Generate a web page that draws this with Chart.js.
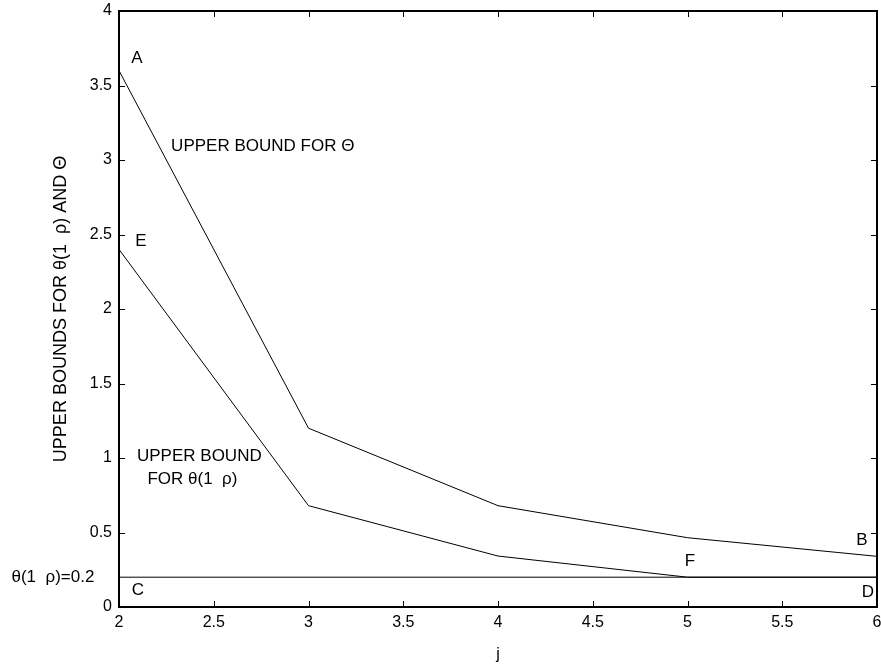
<!DOCTYPE html>
<html>
<head>
<meta charset="utf-8">
<script src="https://cdn.jsdelivr.net/npm/chart.js@4"></script>
<style>
html,body{margin:0;padding:0;background:#fff;}
#wrap{width:881px;height:668px;}
</style>
</head>
<body>
<div id="wrap"><canvas id="c" width="881" height="668"></canvas></div>
<script>
// ---- data ----
const jValues = [2, 3, 4, 5, 6];
const upperTheta = [3.6, 1.2, 0.68, 0.465, 0.34];
const upperThetaRho = [2.4, 0.68, 0.342, 0.2, 0.2];
const thetaRhoLevel = [0.2, 0.2];
const levelX = [2, 6];
const xTickValues = [2, 2.5, 3, 3.5, 4, 4.5, 5, 5.5, 6];
const yTickValues = [0, 0.5, 1, 1.5, 2, 2.5, 3, 3.5, 4];

// annotation texts anchored in data coordinates
const notes = [
  {text: 'A', x: 2.095, y: 3.68, align: 'center'},
  {text: 'UPPER BOUND FOR Θ', x: 2.275, y: 3.09, align: 'left'},
  {text: 'E', x: 2.116, y: 2.455, align: 'center'},
  {text: 'UPPER BOUND', x: 2.095, y: 1.01, align: 'left'},
  {text: 'FOR θ(1  ρ)', x: 2.15, y: 0.86, align: 'left'},
  {text: 'F', x: 5.013, y: 0.305, align: 'center'},
  {text: 'B', x: 5.92, y: 0.445, align: 'center'},
  {text: 'C', x: 2.1, y: 0.11, align: 'center'},
  {text: 'D', x: 5.952, y: 0.1, align: 'center'},
  {text: 'θ(1  ρ)=0.2', x: 1.87, y: 0.2, align: 'right'}
];

const FONT = '"Liberation Sans", Arial, sans-serif';

const toPts = (xs, ys) => xs.map((x, i) => ({x: x, y: ys[i]}));

const framePlugin = {
  id: 'frame',
  afterDatasetsDraw(chart) {
    const ctx = chart.ctx;
    const a = chart.chartArea;
    const xs = chart.scales.x, ys = chart.scales.y;
    ctx.save();
    ctx.strokeStyle = '#000';
    ctx.lineWidth = 1;
    const tl = 6;
    xTickValues.forEach(v => {
      const px = Math.round(xs.getPixelForValue(v)) + 0.5;
      ctx.beginPath();
      ctx.moveTo(px, a.bottom); ctx.lineTo(px, a.bottom - tl);
      ctx.moveTo(px, a.top); ctx.lineTo(px, a.top + tl);
      ctx.stroke();
    });
    yTickValues.forEach(v => {
      const py = Math.round(ys.getPixelForValue(v)) + 0.5;
      ctx.beginPath();
      ctx.moveTo(a.left, py); ctx.lineTo(a.left + tl, py);
      ctx.moveTo(a.right, py); ctx.lineTo(a.right - tl, py);
      ctx.stroke();
    });
    ctx.lineWidth = 2;
    ctx.strokeRect(a.left, a.top, a.right - a.left, a.bottom - a.top);
    // annotations
    ctx.fillStyle = '#000';
    ctx.font = '17px ' + FONT;
    ctx.textBaseline = 'middle';
    notes.forEach(n => {
      ctx.textAlign = n.align;
      ctx.fillText(n.text, xs.getPixelForValue(n.x), ys.getPixelForValue(n.y));
    });
    ctx.restore();
  }
};

new Chart(document.getElementById('c'), {
  type: 'line',
  data: {
    datasets: [
      {data: toPts(jValues, upperTheta), borderColor: '#000', borderWidth: 1, pointRadius: 0, tension: 0, fill: false},
      {data: toPts(jValues, upperThetaRho), borderColor: '#000', borderWidth: 1, pointRadius: 0, tension: 0, fill: false},
      {data: toPts(levelX, thetaRhoLevel), borderColor: '#000', borderWidth: 1, pointRadius: 0, tension: 0, fill: false}
    ]
  },
  options: {
    responsive: false,
    animation: false,
    events: [],
    layout: {padding: {top: 11, right: 4, left: 0, bottom: 0}},
    plugins: {legend: {display: false}, tooltip: {enabled: false}, title: {display: false}},
    scales: {
      x: {
        type: 'linear', min: 2, max: 6,
        afterBuildTicks: s => { s.ticks = xTickValues.map(v => ({value: v})); },
        grid: {display: false, drawTicks: false},
        border: {display: false},
        ticks: {color: '#000', font: {family: FONT, size: 16}, padding: 6, maxRotation: 0, autoSkip: false,
                callback: v => String(v)},
        title: {display: true, text: 'j', color: '#000', font: {family: FONT, size: 16}, padding: {top: 0, bottom: 4}},
        afterFit: s => { s.height = 61; s.paddingLeft = 0; s.paddingRight = 0; }
      },
      y: {
        type: 'linear', min: 0, max: 4,
        afterBuildTicks: s => { s.ticks = yTickValues.map(v => ({value: v})); },
        grid: {display: false, drawTicks: false},
        border: {display: false},
        ticks: {color: '#000', font: {family: FONT, size: 16}, padding: 7, callback: v => String(v)},
        title: {display: true, text: 'UPPER BOUNDS FOR θ(1  ρ) AND Θ', color: '#000', font: {family: FONT, size: 18}, padding: {top: 50, bottom: 0}},
        afterFit: s => { s.width = 119; s.paddingTop = 0; s.paddingBottom = 0; }
      }
    }
  },
  plugins: [framePlugin]
});
</script>
</body>
</html>
